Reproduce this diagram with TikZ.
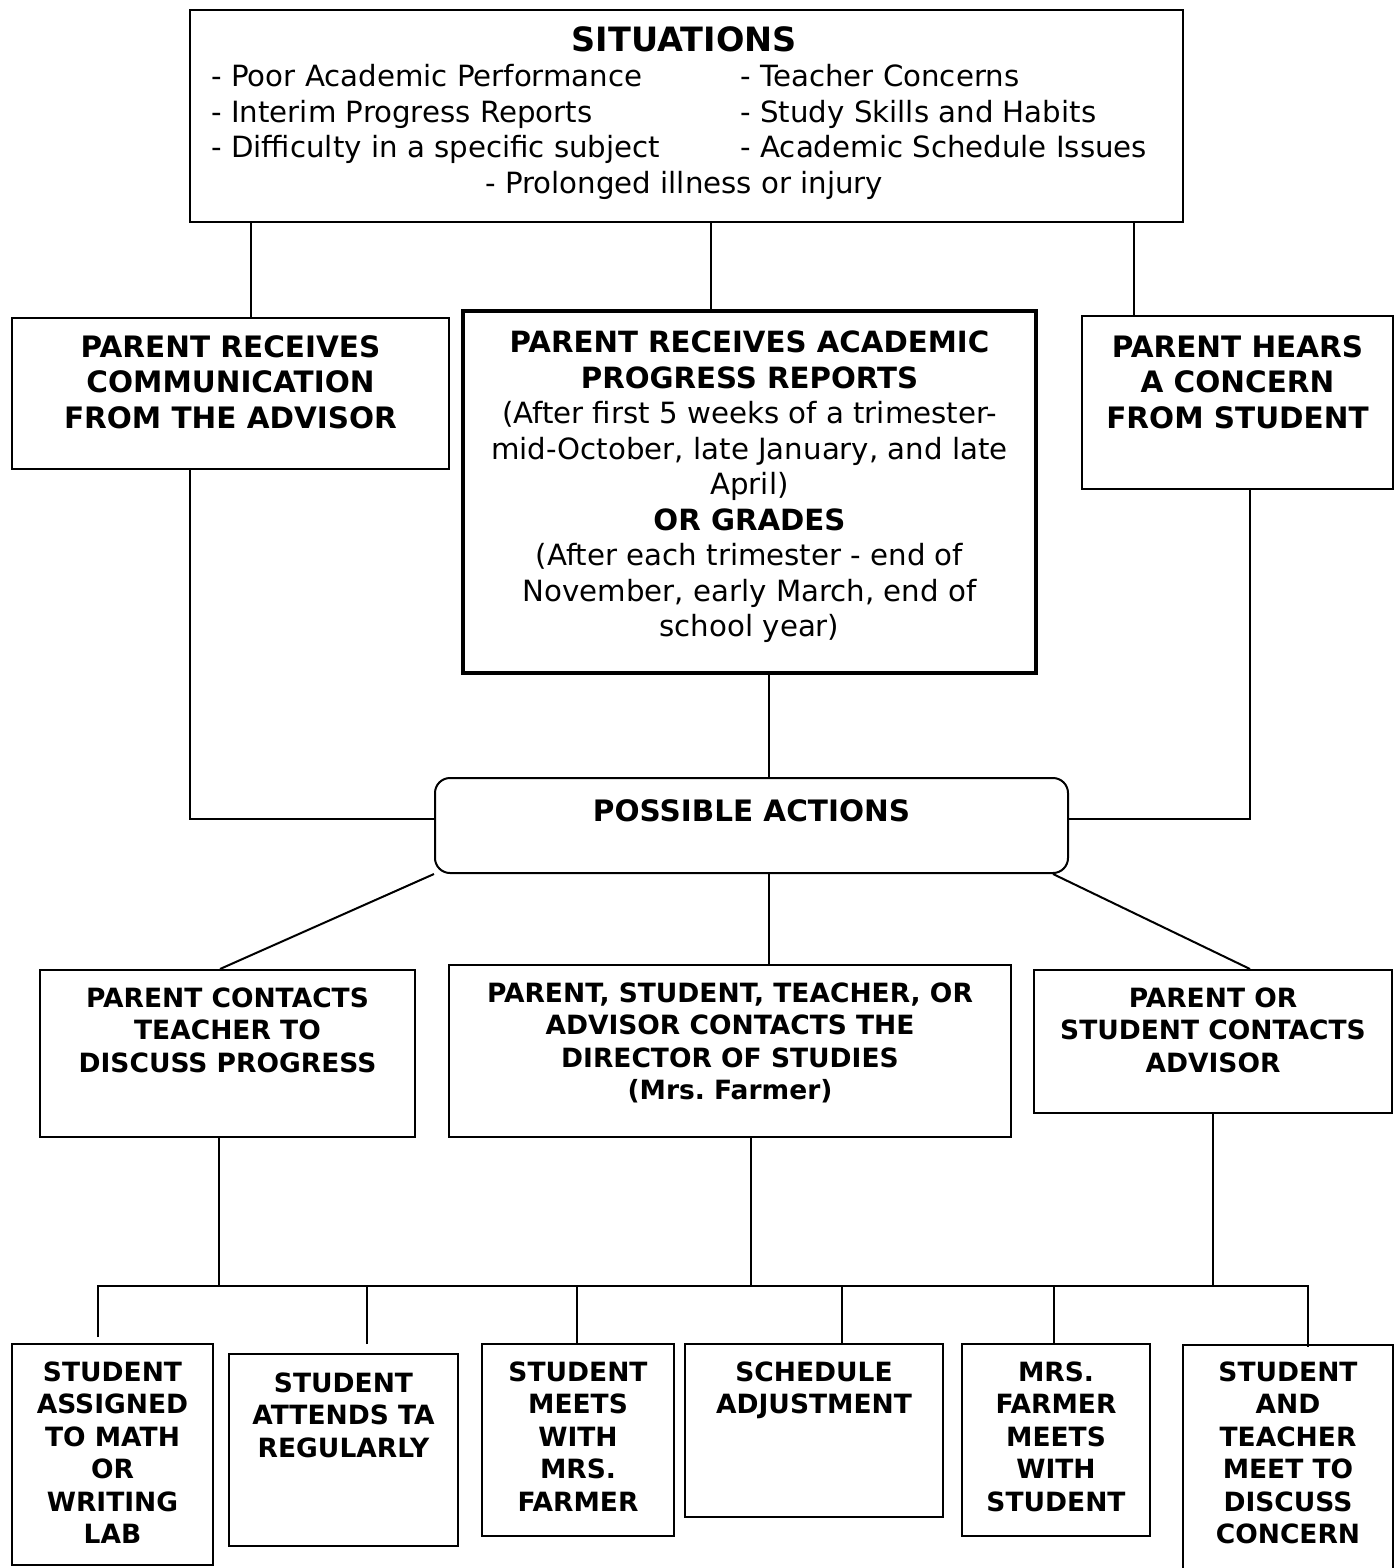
\documentclass[tikz,border=0pt]{standalone}
\usepackage{fontspec}
\setmainfont{DejaVu Sans}
\usetikzlibrary{calc,positioning}

\begin{document}
\begin{tikzpicture}[x=0.4pt,y=-0.4pt]
	\tikzstyle {box} = [draw, line width=0.8pt, inner sep=0pt]
	\tikzstyle {link} = [line width=0.8pt]
	\tikzstyle {head} = [align=center, inner sep=0pt, font=\fontsize{11.8}{14.2}\selectfont\bfseries]
	\tikzstyle {body} = [align=center, inner sep=0pt, font=\fontsize{11.7}{14.2}\selectfont]
	\tikzstyle {small head} = [align=center, inner sep=0pt, font=\fontsize{10.6}{13}\selectfont\bfseries]
	\tikzset{sized/.style 2 args={minimum width=#1*0.4pt, minimum height=#2*0.4pt}}

	\useasboundingbox (0,0) rectangle (1400,1568);
	\clip (0,0) rectangle (1400,1568);

	\node[box, sized={993}{212}] (sit) at (686.5,116) {};
	\node[anchor=north west, inner sep=0pt, font=\fontsize{11.7}{14.2}\selectfont] (sit text) at ($(sit.north west)+(22,17)$) {%
		\begin{tabular}{@{}p{211.6pt}@{}l@{\hspace{4pt}}}
			\multicolumn{2}{c}{\fontsize{13.4}{16}\selectfont\bfseries SITUATIONS}\\
			- Poor Academic Performance & - Teacher Concerns\\
			- Interim Progress Reports & - Study Skills and Habits\\
			- Difficulty in a specific subject & - Academic Schedule Issues\\
			\multicolumn{2}{c}{- Prolonged illness or injury}
		\end{tabular}};

	\node[box, sized={437}{151}] (comm) at (230.5,393.5) {};
	\node[head, below=7.2pt of comm.north] (comm text) {PARENT RECEIVES\\COMMUNICATION\\FROM THE ADVISOR};

	\node[box, line width=1.8pt, sized={573}{362}] (reports) at (749.5,492) {};
	\node[body, below=8.8pt of reports.north] (reports text) {\textbf{PARENT RECEIVES ACADEMIC}\\\textbf{PROGRESS REPORTS}\\(After first 5 weeks of a trimester-\\mid-October, late January, and late\\April)\\\textbf{OR GRADES}\\(After each trimester - end of\\November, early March, end of\\school year)};

	\node[box, sized={311}{173}] (hears) at (1237.5,402.5) {};
	\node[head, below=8pt of hears.north] (hears text) {PARENT HEARS\\A CONCERN\\FROM STUDENT};

	\node[box, rounded corners=6pt, sized={633}{95}] (actions) at (751.5,825.5) {};
	\node[head, below=8.8pt of actions.north] (actions text) {POSSIBLE ACTIONS};

	\node[box, sized={375}{167}] (teacher) at (227.5,1053.5) {};
	\node[small head, below=7.2pt of teacher.north] (teacher text) {PARENT CONTACTS\\TEACHER TO\\DISCUSS PROGRESS};

	\node[box, sized={562}{172}] (director) at (730,1051) {};
	\node[small head, below=7.2pt of director.north] (director text) {PARENT, STUDENT, TEACHER, OR\\ADVISOR CONTACTS THE\\DIRECTOR OF STUDIES\\(Mrs.\ Farmer)};

	\node[box, sized={358}{143}] (advisor) at (1213,1041.5) {};
	\node[small head, below=7.2pt of advisor.north] (advisor text) {PARENT OR\\STUDENT CONTACTS\\ADVISOR};

	\node[box, sized={201}{221}] (lab) at (112.5,1454.5) {};
	\node[small head, below=7.2pt of lab.north] (lab text) {STUDENT\\ASSIGNED\\TO MATH\\OR\\WRITING\\LAB};

	\node[box, sized={229}{192}] (ta) at (343.5,1450) {};
	\node[small head, below=7.6pt of ta.north] (ta text) {STUDENT\\ATTENDS TA\\REGULARLY};

	\node[box, sized={192}{192}] (meets) at (578,1440) {};
	\node[small head, below=7.2pt of meets.north] (meets text) {STUDENT\\MEETS\\WITH\\MRS.\\FARMER};

	\node[box, sized={258}{173}] (sched) at (814,1430.5) {};
	\node[small head, below=7.2pt of sched.north] (sched text) {SCHEDULE\\ADJUSTMENT};

	\node[box, sized={188}{192}] (farmer) at (1056,1440) {};
	\node[small head, below=7.2pt of farmer.north] (farmer text) {MRS.\\FARMER\\MEETS\\WITH\\STUDENT};

	\node[box, sized={210}{240}] (concern) at (1288,1465) {};
	\node[small head, below=6.8pt of concern.north] (concern text) {STUDENT\\AND\\TEACHER\\MEET TO\\DISCUSS\\CONCERN};

	\draw[link] ([xshift=8.2pt]comm.north) -- ([xshift=8.2pt]comm.north |- sit.south);
	\draw[link] ([xshift=-15.4pt]reports.north) -- ([xshift=-15.4pt]reports.north |- sit.south);
	\draw[link] ([xshift=-41.4pt]hears.north) -- ([xshift=-41.4pt]hears.north |- sit.south);

	\draw[link] ([xshift=-16.2pt]comm.south) |- ([yshift=2.8pt]actions.west);
	\draw[link] ([xshift=7.8pt]reports.south) -- ([xshift=7.8pt]reports.south |- actions.north);
	\draw[link] ([xshift=5pt]hears.south) |- ([yshift=2.8pt]actions.east);

	\draw[link] (actions.south west) -- ([xshift=-3pt]teacher.north);
	\draw[link] ([xshift=15.6pt]director.north) -- ([xshift=15.6pt]director.north |- actions.south);
	\draw[link] ([xshift=-6.4pt]actions.south east) -- ([xshift=14.8pt]advisor.north);

	\coordinate (bar) at (751,1286);
	\draw[link] ([xshift=-3.4pt]teacher.south) -- ([xshift=-3.4pt]teacher.south |- bar);
	\draw[link] ([xshift=8.4pt]director.south) -- ([xshift=8.4pt]director.south |- bar);
	\draw[link] (advisor.south) -- (advisor.south |- bar);

	\draw[link] ([xshift=-5.8pt,yshift=2.4pt]lab.north) |- ([xshift=8pt]concern.north |- bar) -- ([xshift=8pt,yshift=-1.2pt]concern.north);
	\draw[link] ([xshift=9.4pt,yshift=3.6pt]ta.north) -- ([xshift=9.4pt]ta.north |- bar);
	\draw[link] ([xshift=-0.4pt]meets.north) -- ([xshift=-0.4pt]meets.north |- bar);
	\draw[link] ([xshift=11.2pt]sched.north) -- ([xshift=11.2pt]sched.north |- bar);
	\draw[link] ([xshift=-0.8pt]farmer.north) -- ([xshift=-0.8pt]farmer.north |- bar);
\end{tikzpicture}
\end{document}
